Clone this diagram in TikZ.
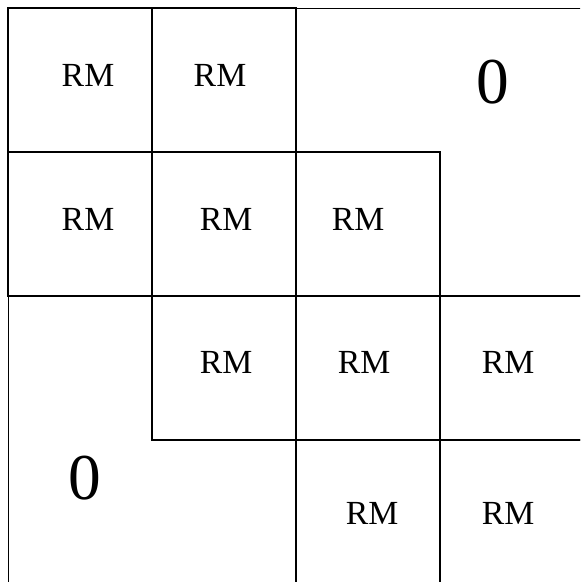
\documentclass[tikz,border=0pt]{standalone}
\usepackage{fontspec}
\setmainfont{Liberation Serif}
\begin{document}
\begin{tikzpicture}[x=0.16667mm, y=-0.16667mm,
    frame/.style={draw, line width=0.45pt},
    block/.style={draw, line width=1pt},
    rm/.style={font=\fontsize{16}{16}\selectfont},
    zero/.style={font=\fontsize{31}{31}\selectfont}]
    \useasboundingbox (0,0) rectangle (580,582);
    \clip (0,0) rectangle (580,582);

    % outer frame
    \draw[frame] (8,8) rectangle (584,584);

    % staircase of blocks
    \foreach \c/\r in {0/0,1/0,0/1,1/1,2/1,1/2,2/2,3/2,2/3,3/3}
        \draw[block] ({8+144*\c},{8+144*\r}) rectangle +(144,144);

    \node[rm] (rm11) at (88,75) {RM};
    \node[rm] (rm12) at (220,75) {RM};
    \node[rm] (rm21) at (88,219) {RM};
    \node[rm] (rm22) at (226,219) {RM};
    \node[rm] (rm23) at (358,219) {RM};
    \node[rm] (rm32) at (226,362) {RM};
    \node[rm] (rm33) at (364,362) {RM};
    \node[rm] (rm34) at (508,362) {RM};
    \node[rm] (rm43) at (372,513) {RM};
    \node[rm] (rm44) at (508,513) {RM};

    \node[zero] (zup) at (493,82) {0};
    \node[zero] (zlow) at (85,478) {0};
\end{tikzpicture}
\end{document}
